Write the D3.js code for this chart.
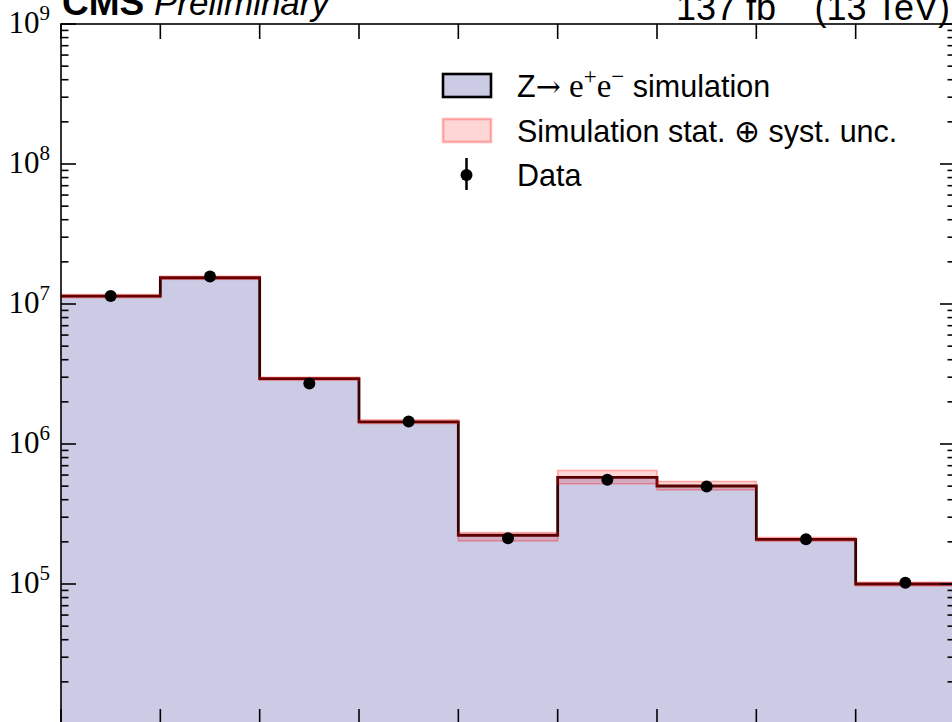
<!DOCTYPE html>
<html><head><meta charset="utf-8">
<script src="https://cdn.jsdelivr.net/npm/d3@7"></script>
<style>html,body{margin:0;padding:0;background:#fff;overflow:hidden}</style>
</head><body>
<svg id="c" width="952" height="722"></svg>
<script>
// ---- data ----
const binEdges = [0,1,2,3,4,5,6,7,8,9];
const mcValues = [1.14e7, 1.54e7, 2.93e6, 1.44e6, 2.23e5, 5.78e5, 5.01e5, 2.08e5, 1.00e5];
const uncHigh  = [1.17e7, 1.58e7, 3.00e6, 1.49e6, 2.33e5, 6.47e5, 5.40e5, 2.15e5, 1.03e5];
const uncLow   = [1.11e7, 1.50e7, 2.85e6, 1.40e6, 2.03e5, 5.20e5, 4.70e5, 2.02e5, 0.97e5];
const dataValues = [1.14e7, 1.57e7, 2.71e6, 1.45e6, 2.12e5, 5.55e5, 4.97e5, 2.09e5, 1.02e5];
const yMajorTicks = [1e4, 1e5, 1e6, 1e7, 1e8, 1e9];
const yLabelTicks = [1e5, 1e6, 1e7, 1e8, 1e9];
const yTickExps = ["5","6","7","8","9"];
const legendLabels = ["simulation", "Simulation stat. \u2295 syst. unc.", "Data"];

const svg = d3.select("#c");
const L = 61, R = 955, T = 24, B = 724;
const x = d3.scaleLinear().domain([0, 9]).range([L, R]);
const y = d3.scaleLog().domain([1e4, 1e9]).range([B, T]);

const bins = mcValues.map((v, i) => ({i, v, lo: uncLow[i], hi: uncHigh[i], d: dataValues[i]}));

// fill
const stepPts = [];
bins.forEach(b => { stepPts.push([x(b.i), y(b.v)]); stepPts.push([x(b.i+1), y(b.v)]); });
const area = [[x(0), B], ...stepPts, [x(9), B]];
svg.append("path").attr("d", d3.line()(area)).attr("fill", "#cbcbe5").attr("stroke", "none");
// step line
svg.append("path").attr("d", d3.line()(stepPts)).attr("fill", "none")
  .attr("stroke", "#3a0000").attr("stroke-width", 2.8).attr("stroke-linejoin", "miter");
// uncertainty band
svg.append("g").selectAll("rect").data(bins).join("rect")
  .attr("x", d => x(d.i)).attr("width", d => x(d.i+1) - x(d.i))
  .attr("y", d => y(d.hi)).attr("height", d => y(d.lo) - y(d.hi))
  .attr("fill", "rgba(255,0,0,0.16)").attr("stroke", "rgba(255,0,0,0.3)").attr("stroke-width", 1.5);
// data
const dg = svg.append("g");
dg.selectAll("line").data(bins).join("line")
  .attr("x1", d => x(d.i + 0.5)).attr("x2", d => x(d.i + 0.5))
  .attr("y1", d => y(d.d + Math.sqrt(d.d))).attr("y2", d => y(d.d - Math.sqrt(d.d)))
  .attr("stroke", "#000").attr("stroke-width", 2.5);
dg.selectAll("circle").data(bins).join("circle")
  .attr("cx", d => x(d.i + 0.5)).attr("cy", d => y(d.d)).attr("r", 6).attr("fill", "#000");

// axes frame
const ax = svg.append("g").attr("stroke", "#000").attr("stroke-width", 1.6).attr("fill", "none");
ax.append("rect").attr("x", L).attr("y", T).attr("width", R - L).attr("height", B - T);
binEdges.forEach(e => {
  ax.append("line").attr("x1", x(e)).attr("x2", x(e)).attr("y1", T).attr("y2", T + 15);
  ax.append("line").attr("x1", x(e)).attr("x2", x(e)).attr("y1", B).attr("y2", B - 15);
});
yMajorTicks.forEach((t, k) => {
  ax.append("line").attr("x1", L).attr("x2", L + 15).attr("y1", y(t)).attr("y2", y(t));
  ax.append("line").attr("x1", R).attr("x2", R - 15).attr("y1", y(t)).attr("y2", y(t));
  if (k < yMajorTicks.length - 1) {
    for (let m = 2; m <= 9; m++) {
      const v = t * m;
      ax.append("line").attr("x1", L).attr("x2", L + 7.5).attr("y1", y(v)).attr("y2", y(v));
      ax.append("line").attr("x1", R).attr("x2", R - 7.5).attr("y1", y(v)).attr("y2", y(v));
    }
  }
});
// y tick labels
yLabelTicks.forEach((t, k) => {
  const tx = svg.append("text").attr("x", 50).attr("y", y(t) + 9)
    .attr("text-anchor", "end").attr("font-family", "Liberation Serif").attr("font-size", 31).attr("fill", "#000");
  tx.append("tspan").text("10");
  tx.append("tspan").attr("font-size", 21).attr("dy", -13).text(yTickExps[k]);
});

// header
const h = svg.append("text").attr("x", 62).attr("y", 15).attr("font-family", "Liberation Sans").attr("fill", "#000");
h.append("tspan").attr("font-weight", "bold").attr("font-size", 37).text("CMS");
h.append("tspan").attr("font-style", "italic").attr("font-size", 35).text(" Preliminary");
const hr = svg.append("text").attr("x", 950).attr("y", 20).attr("text-anchor", "end")
  .attr("font-family", "Liberation Sans").attr("font-size", 36).attr("fill", "#000");
hr.append("tspan").text("137 fb");
hr.append("tspan").attr("font-size", 25).attr("dy", -25).text("\u22121");
hr.append("tspan").attr("dy", 25).text(" (13 TeV)");

// legend
const FS = 30.5;
const lg = svg.append("g");
lg.append("rect").attr("x", 443).attr("y", 74).attr("width", 48).attr("height", 23)
  .attr("fill", "#cbcbe5").attr("stroke", "#000").attr("stroke-width", 2.6);
lg.append("rect").attr("x", 443).attr("y", 119).attr("width", 48).attr("height", 23)
  .attr("fill", "rgba(255,0,0,0.16)").attr("stroke", "rgba(255,0,0,0.28)").attr("stroke-width", 2.6);
lg.append("line").attr("x1", 466.5).attr("x2", 466.5).attr("y1", 158).attr("y2", 190)
  .attr("stroke", "#000").attr("stroke-width", 2.5);
lg.append("circle").attr("cx", 466.5).attr("cy", 175).attr("r", 6).attr("fill", "#000");

const t1 = lg.append("text").attr("x", 517).attr("y", 97).attr("font-family", "Liberation Sans").attr("font-size", FS).attr("fill", "#000");
t1.append("tspan").text("Z");
t1.append("tspan").attr("font-family", "DejaVu Serif").attr("font-size", 30).text("\u2192");
t1.append("tspan").attr("font-family", "Liberation Serif").attr("font-size", 33).text(" e");
t1.append("tspan").attr("font-family", "Liberation Serif").attr("font-size", 23).attr("dy", -13).text("+");
t1.append("tspan").attr("font-family", "Liberation Serif").attr("font-size", 33).attr("dy", 13).text("e");
t1.append("tspan").attr("font-family", "Liberation Serif").attr("font-size", 23).attr("dy", -13).text("\u2212");
t1.append("tspan").attr("dy", 13).text(" " + legendLabels[0]);
lg.append("text").attr("x", 517).attr("y", 142).attr("font-family", "Liberation Sans").attr("font-size", FS).attr("fill", "#000").text(legendLabels[1]);
lg.append("text").attr("x", 517).attr("y", 186).attr("font-family", "Liberation Sans").attr("font-size", FS).attr("fill", "#000").text(legendLabels[2]);
</script>
</body></html>
